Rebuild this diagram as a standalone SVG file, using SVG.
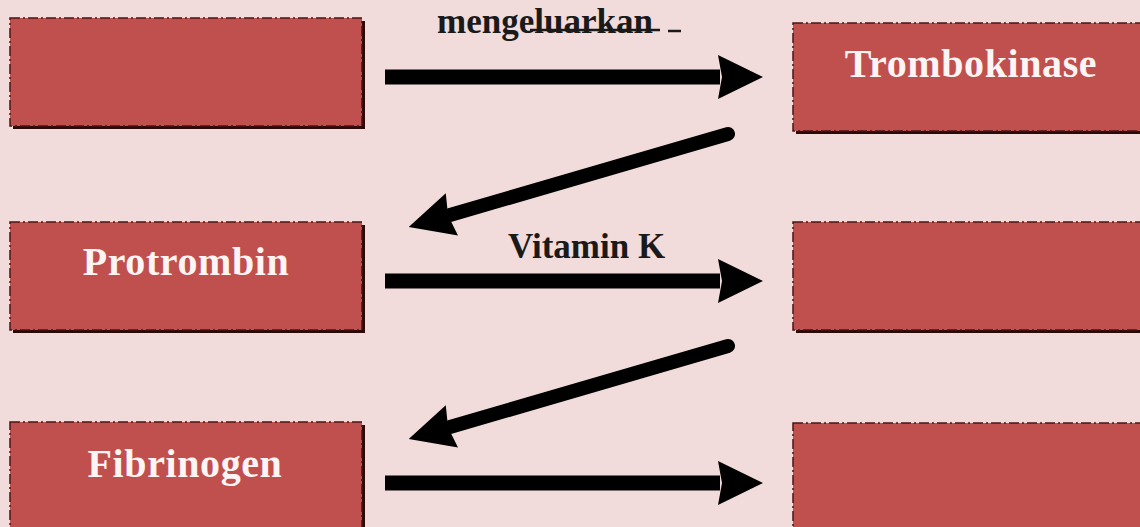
<svg xmlns="http://www.w3.org/2000/svg" width="1140" height="527" viewBox="0 0 1140 527">
<style>
.bg{fill:#f2dcdb}
.shadow{fill:#2b0a0a}
.box{fill:#c0504d;stroke:#4a1414;stroke-width:1.5;stroke-dasharray:10 3 2 3}
.lbl{font-family:"Liberation Serif","Times New Roman",serif;font-weight:bold;font-size:40px;letter-spacing:0.6px;fill:#fdf4f4;text-anchor:middle}
.elbl{font-family:"Liberation Serif","Times New Roman",serif;font-weight:bold;font-size:35px;fill:#1a1a1a}
.conn{stroke:#000;stroke-width:15;fill:none}
.diag{stroke:#000;stroke-width:14;fill:none;stroke-linecap:round}
</style>
<defs>
<marker id="ah" viewBox="0 0 45 44" markerWidth="45" markerHeight="44" refX="2" refY="22" orient="auto" markerUnits="userSpaceOnUse">
<path d="M0,0 L45,22 L0,44 L4,22 z" fill="#000"/>
</marker>
</defs>
<rect class="bg" x="0" y="0" width="1140" height="527"/>

<g id="node-source">
<rect class="shadow" x="13" y="21" width="352" height="108"/>
<rect class="box" x="10" y="18" width="352" height="108"/>
</g>
<g id="node-trombokinase">
<rect class="shadow" x="796" y="26" width="350" height="108"/>
<rect class="box" x="793" y="23" width="352" height="108"/>
<text class="lbl" x="971" y="77">Trombokinase</text>
</g>
<g id="node-protrombin">
<rect class="shadow" x="13" y="225" width="352" height="108"/>
<rect class="box" x="10" y="222" width="352" height="108"/>
<text class="lbl" x="186" y="275">Protrombin</text>
</g>
<g id="node-middle-right">
<rect class="shadow" x="796" y="225" width="350" height="108"/>
<rect class="box" x="793" y="222" width="352" height="108"/>
</g>
<g id="node-fibrinogen">
<rect class="shadow" x="13" y="425" width="352" height="120"/>
<rect class="box" x="10" y="422" width="352" height="120"/>
<text class="lbl" x="185" y="477">Fibrinogen</text>
</g>
<g id="node-bottom-right">
<rect class="shadow" x="796" y="426" width="350" height="120"/>
<rect class="box" x="793" y="423" width="352" height="120"/>
</g>

<g id="connectors">
<line class="conn" x1="385" y1="77" x2="720" y2="77" marker-end="url(#ah)"/>
<line class="diag" x1="728" y1="134" x2="450" y2="215" marker-end="url(#ah)"/>
<line class="conn" x1="385" y1="281" x2="720" y2="281" marker-end="url(#ah)"/>
<line class="diag" x1="728" y1="346" x2="450" y2="427" marker-end="url(#ah)"/>
<line class="conn" x1="385" y1="483" x2="720" y2="483" marker-end="url(#ah)"/>
<text class="elbl" x="437" y="33">mengeluarkan</text>
<line x1="530" y1="30" x2="660" y2="30" stroke="#1a1a1a" stroke-width="2.5"/>
<line x1="668" y1="31" x2="681" y2="31" stroke="#1a1a1a" stroke-width="2.5"/>
<text class="elbl" x="508" y="258">Vitamin K</text>
</g>
</svg>
